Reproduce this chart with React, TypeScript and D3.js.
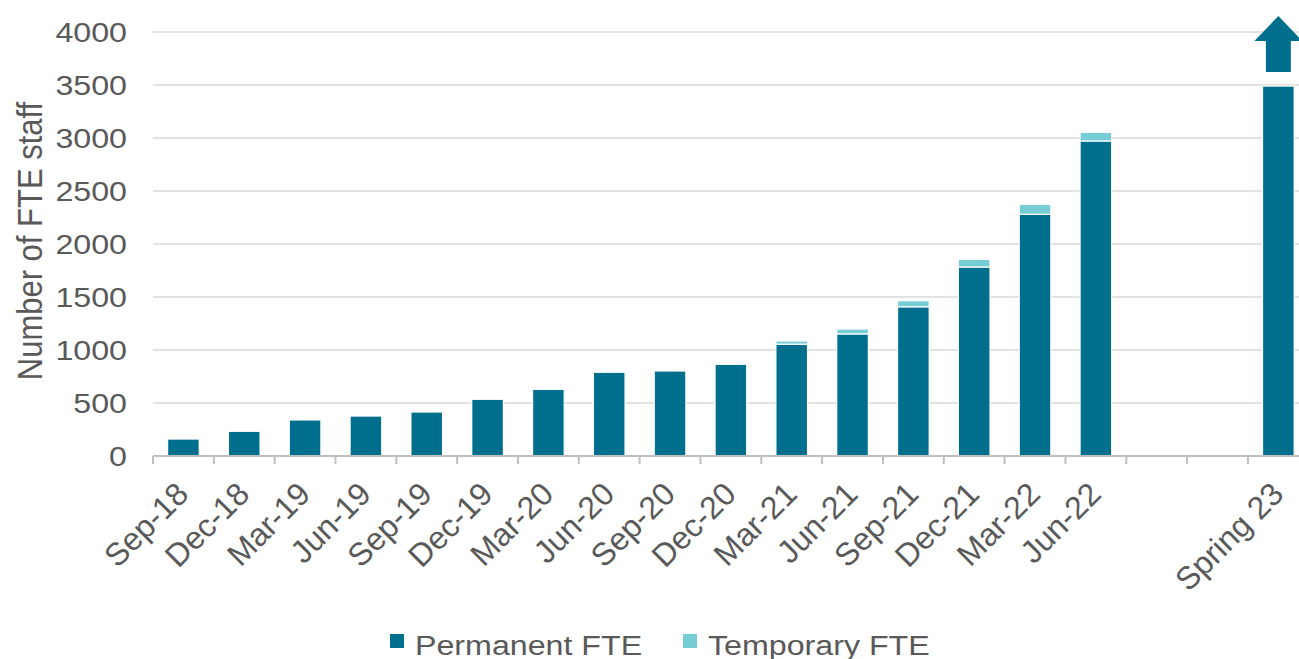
import React from 'react';
import { scaleBand, scaleLinear } from 'd3';

const categories = [
  'Sep-18', 'Dec-18', 'Mar-19', 'Jun-19', 'Sep-19', 'Dec-19', 'Mar-20', 'Jun-20',
  'Sep-20', 'Dec-20', 'Mar-21', 'Jun-21', 'Sep-21', 'Dec-21', 'Mar-22', 'Jun-22',
  '', ' ', 'Spring 23',
];
const permanent = [160, 233, 340, 377, 415, 535, 629, 790, 802, 865, 1055, 1152, 1408, 1783, 2280, 2972, 0, 0, 3490];
const temporary = [0, 0, 0, 0, 0, 0, 0, 0, 0, 0, 30, 46, 57, 73, 94, 82, 0, 0, 0];
const yTicks = [0, 500, 1000, 1500, 2000, 2500, 3000, 3500, 4000];

const W = 1299;
const H = 659;
const PERM = '#006F8E';
const TEMP = '#76CDD4';
const TEXT = '#595959';
const FONT = '"Liberation Sans", Arial, sans-serif';
const SX = 1.15; // the reference is slightly wide

export default function App() {
  const x = scaleBand<string>()
    .domain(categories)
    .range([153, 153 + 60.83 * categories.length]);
  const y = scaleLinear().domain([0, 4000]).range([456, 32]);
  const bw = x.bandwidth() * 0.52;

  const last = categories[categories.length - 1];
  const ac = (x(last) ?? 0) + x.bandwidth() / 2;
  const aTop = y(permanent[permanent.length - 1]) - 70;
  const aBase = aTop + 25;
  const aBottom = y(permanent[permanent.length - 1]) - 14;
  const arrow = [
    [ac, aTop], [ac + 24, aBase], [ac + 12.5, aBase], [ac + 12.5, aBottom],
    [ac - 12.5, aBottom], [ac - 12.5, aBase], [ac - 24, aBase],
  ].map((p) => p.join(',')).join(' ');

  return (
    <svg width={W} height={H} style={{ position: 'absolute', left: 0, top: 0, background: '#fff' }} fontFamily={FONT}>
      {yTicks.slice(1).map((t) => (
        <line key={`g${t}`} x1={153} x2={W} y1={y(t)} y2={y(t)} stroke="#d9d9d9" strokeWidth={1.5} />
      ))}

      {categories.map((c, i) => {
        const cx = (x(c) ?? 0) + x.bandwidth() / 2;
        const p = permanent[i];
        const t = temporary[i];
        return (
          <g key={`b${i}`}>
            {p > 0 && (
              <rect x={cx - bw / 2} y={y(p)} width={bw} height={y(0) - y(p)} fill={PERM} stroke="#fff" strokeWidth={1.2} />
            )}
            {t > 0 && (
              <rect x={cx - bw / 2} y={y(p + t)} width={bw} height={y(p) - y(p + t)} fill={TEMP} stroke="#fff" strokeWidth={1.2} />
            )}
          </g>
        );
      })}

      <polygon points={arrow} fill={PERM} />

      <line x1={153} x2={W} y1={y(0)} y2={y(0)} stroke="#bfbfbf" strokeWidth={2} />
      {categories.map((c, i) => (
        <line key={`t${i}`} x1={x(c)} x2={x(c)} y1={y(0)} y2={y(0) + 8} stroke="#bfbfbf" strokeWidth={2} />
      ))}

      {yTicks.map((t) => (
        <text key={`yl${t}`} transform={`translate(127,${y(t)}) scale(${SX},1)`} dy="0.36em" textAnchor="end" fontSize={28} fill={TEXT}>
          {t}
        </text>
      ))}

      {categories.map((c, i) => c.trim() ? (
        <text
          key={`xl${i}`}
          transform={`translate(${(x(c) ?? 0) + x.bandwidth() / 2 + 7},496) rotate(-45)`}
          textAnchor="end"
          fontSize={32}
          fill={TEXT}
        >
          {c}
        </text>
      ) : null)}

      <text transform={`translate(42,241) scale(${SX},1) rotate(-90)`} textAnchor="middle" fontSize={31} fill={TEXT}>
        Number of FTE staff
      </text>

      <rect x={390} y={634} width={14} height={14} fill={PERM} />
      <text transform={`translate(415,655) scale(${SX},1)`} fontSize={28} fill={TEXT}>Permanent FTE</text>
      <rect x={683} y={634} width={14} height={14} fill={TEMP} />
      <text transform={`translate(708,655) scale(${SX},1)`} fontSize={28} fill={TEXT}>Temporary FTE</text>
    </svg>
  );
}
